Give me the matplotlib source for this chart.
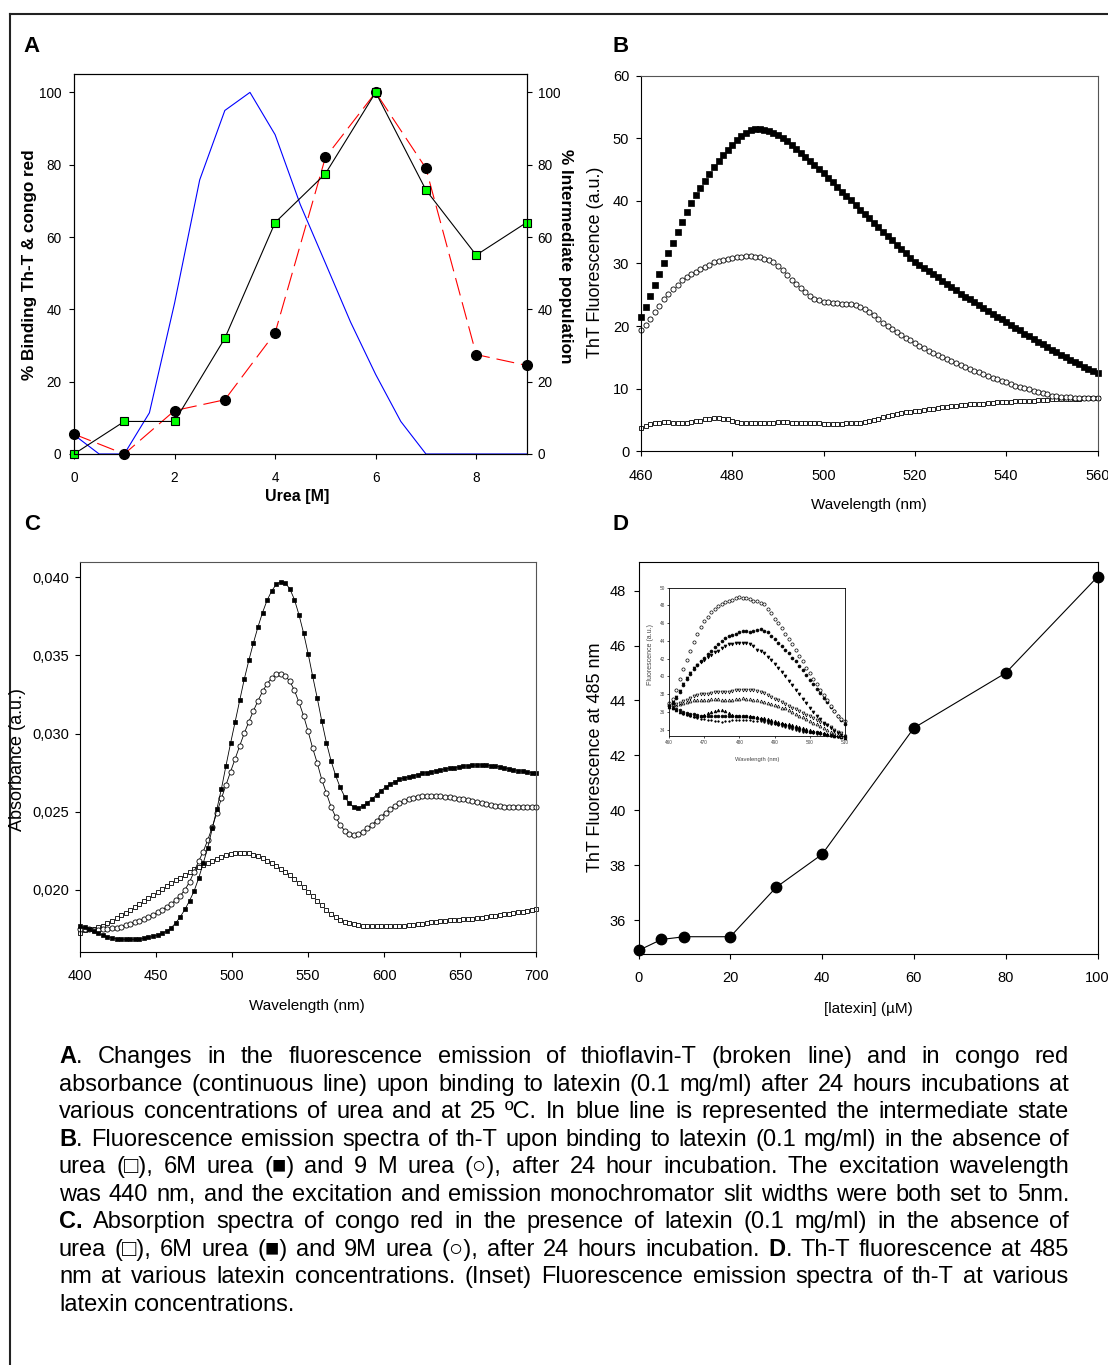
import numpy as np
import matplotlib
matplotlib.use("Agg")
import matplotlib.pyplot as plt
from matplotlib.lines import Line2D
from matplotlib.ticker import FuncFormatter

# ---------------------------------------------------------------- data
# Panel A: urea titration
urea = [0, 1, 2, 3, 4, 5, 6, 7, 8, 9]
congo_red = [0, 9, 9, 32, 64, 77.5, 100, 73, 55, 64]
thioflavin = [5.5, 0, 12, 15, 33.5, 82, 100, 79, 27.5, 24.5]
urea_fine = [0, 0.5, 1, 1.5, 2, 2.5, 3, 3.5, 4, 4.5, 5, 5.5, 6, 6.5, 7, 7.5, 8, 8.5, 9]
intermediate = [5.3, 0, 0, 11.4, 41.7, 75.8, 95, 100, 88.3, 69, 52.8, 36.5, 22, 9, 0, 0, 0, 0, 0]

# Panel B: ThT emission spectra, 460-560 nm every 1 nm
thtB_wl = np.arange(460, 561, 1)
thtB_6M = [21.4, 23.1, 24.8, 26.5, 28.4, 30.1, 31.7, 33.3, 35.0, 36.6,
           38.2, 39.6, 40.9, 42.1, 43.2, 44.3, 45.4, 46.4, 47.3, 48.2,
           49.0, 49.8, 50.4, 50.9, 51.3, 51.5, 51.5, 51.4, 51.2, 50.9,
           50.5, 50.0, 49.5, 48.9, 48.3, 47.7, 47.0, 46.4, 45.7, 45.1,
           44.4, 43.7, 43.0, 42.2, 41.5, 40.8, 40.1, 39.3, 38.6, 37.9,
           37.2, 36.5, 35.8, 35.1, 34.4, 33.7, 33.0, 32.3, 31.6, 30.9,
           30.3, 29.8, 29.3, 28.8, 28.3, 27.8, 27.2, 26.7, 26.2, 25.7,
           25.2, 24.7, 24.3, 23.8, 23.4, 22.9, 22.4, 22.0, 21.5, 21.1,
           20.6, 20.2, 19.7, 19.3, 18.8, 18.4, 17.9, 17.5, 17.1, 16.6,
           16.2, 15.8, 15.4, 15.0, 14.6, 14.2, 13.9, 13.5, 13.2, 12.8, 12.5]
thtB_9M = [19.3, 20.2, 21.2, 22.2, 23.2, 24.3, 25.2, 25.9, 26.6, 27.3,
           27.8, 28.3, 28.7, 29.1, 29.5, 29.8, 30.2, 30.4, 30.6, 30.7,
           30.9, 31.0, 31.1, 31.2, 31.2, 31.1, 31.0, 30.7, 30.5, 30.2,
           29.6, 28.9, 28.1, 27.4, 26.8, 26.1, 25.4, 24.8, 24.4, 24.1,
           23.9, 23.8, 23.7, 23.7, 23.6, 23.6, 23.5, 23.3, 23.0, 22.7,
           22.2, 21.7, 21.1, 20.5, 20.0, 19.5, 19.0, 18.5, 18.1, 17.7,
           17.3, 16.9, 16.5, 16.1, 15.7, 15.4, 15.0, 14.7, 14.4, 14.1,
           13.8, 13.5, 13.2, 12.9, 12.6, 12.3, 12.0, 11.7, 11.5, 11.2,
           11.0, 10.8, 10.5, 10.3, 10.1, 9.9, 9.7, 9.5, 9.3, 9.1,
           8.9, 8.8, 8.7, 8.6, 8.6, 8.5, 8.5, 8.5, 8.5, 8.5, 8.5]
thtB_0M = [3.8, 4.0, 4.3, 4.5, 4.6, 4.7, 4.7, 4.6, 4.6, 4.6,
           4.6, 4.7, 4.8, 4.9, 5.1, 5.2, 5.3, 5.3, 5.2, 5.1,
           4.8, 4.7, 4.6, 4.5, 4.5, 4.5, 4.5, 4.5, 4.6, 4.6,
           4.7, 4.7, 4.7, 4.6, 4.6, 4.5, 4.5, 4.5, 4.5, 4.5,
           4.4, 4.4, 4.4, 4.4, 4.4, 4.5, 4.5, 4.5, 4.6, 4.7,
           4.8, 5.0, 5.2, 5.4, 5.6, 5.8, 6.0, 6.1, 6.2, 6.3,
           6.4, 6.5, 6.6, 6.7, 6.8, 6.9, 7.0, 7.1, 7.2, 7.3,
           7.4, 7.4, 7.5, 7.5, 7.6, 7.6, 7.7, 7.7, 7.8, 7.8,
           7.9, 7.9, 8.0, 8.0, 8.0, 8.1, 8.1, 8.2, 8.2, 8.2,
           8.3, 8.3, 8.3, 8.4, 8.4, 8.4, 8.4, 8.5, 8.5, 8.5, 8.5]

# Panel C: congo red absorption spectra, 400-700 nm every 3 nm
absC_wl = np.arange(400, 701, 3)
absC_6M = [0.01767, 0.01759, 0.01748, 0.01735, 0.01720, 0.01707, 0.01699, 0.01692, 0.01686, 0.01684,
           0.01682, 0.01682, 0.01682, 0.01684, 0.01688, 0.01694, 0.01701, 0.01709, 0.01720, 0.01735,
           0.01756, 0.01788, 0.01827, 0.01874, 0.01929, 0.01991, 0.02073, 0.02169, 0.02269, 0.02393,
           0.02517, 0.02647, 0.02795, 0.02938, 0.03075, 0.03212, 0.03348, 0.03468, 0.03579, 0.03682,
           0.03774, 0.03853, 0.03912, 0.03955, 0.03972, 0.03964, 0.03925, 0.03857, 0.03759, 0.03643,
           0.03511, 0.03365, 0.03226, 0.03077, 0.02942, 0.02827, 0.02733, 0.02656, 0.02596, 0.02553,
           0.02528, 0.02523, 0.02536, 0.02558, 0.02579, 0.02609, 0.02635, 0.02656, 0.02675, 0.02692,
           0.02707, 0.02715, 0.02722, 0.02730, 0.02737, 0.02744, 0.02750, 0.02756, 0.02762, 0.02767,
           0.02772, 0.02777, 0.02782, 0.02786, 0.02790, 0.02793, 0.02796, 0.02798, 0.02799, 0.02798,
           0.02795, 0.02791, 0.02786, 0.02780, 0.02774, 0.02768, 0.02763, 0.02758, 0.02754, 0.02750,
           0.02746]
absC_9M = [0.01748, 0.01746, 0.01746, 0.01744, 0.01744, 0.01746, 0.01748, 0.01752, 0.01756, 0.01763,
           0.01771, 0.01780, 0.01791, 0.01801, 0.01814, 0.01827, 0.01840, 0.01855, 0.01872, 0.01889,
           0.01910, 0.01934, 0.01962, 0.02000, 0.02049, 0.02115, 0.02182, 0.02244, 0.02318, 0.02402,
           0.02494, 0.02585, 0.02671, 0.02756, 0.02838, 0.02921, 0.03002, 0.03075, 0.03145, 0.03209,
           0.03269, 0.03318, 0.03355, 0.03378, 0.03382, 0.03370, 0.03333, 0.03276, 0.03199, 0.03113,
           0.03013, 0.02905, 0.02810, 0.02703, 0.02618, 0.02532, 0.02468, 0.02415, 0.02378, 0.02357,
           0.02350, 0.02357, 0.02372, 0.02393, 0.02417, 0.02442, 0.02468, 0.02494, 0.02515, 0.02536,
           0.02553, 0.02568, 0.02579, 0.02588, 0.02594, 0.02598, 0.02600, 0.02600, 0.02600, 0.02598,
           0.02596, 0.02592, 0.02588, 0.02583, 0.02579, 0.02573, 0.02566, 0.02560, 0.02553, 0.02547,
           0.02541, 0.02536, 0.02534, 0.02532, 0.02532, 0.02532, 0.02532, 0.02532, 0.02532, 0.02532,
           0.02532]
absC_0M = [0.01720, 0.01741, 0.01746, 0.01750, 0.01759, 0.01769, 0.01784, 0.01801, 0.01818, 0.01835,
           0.01853, 0.01872, 0.01889, 0.01906, 0.01925, 0.01944, 0.01964, 0.01983, 0.02002, 0.02021,
           0.02041, 0.02060, 0.02077, 0.02094, 0.02113, 0.02130, 0.02147, 0.02160, 0.02173, 0.02186,
           0.02199, 0.02209, 0.02220, 0.02229, 0.02235, 0.02237, 0.02237, 0.02233, 0.02224, 0.02214,
           0.02201, 0.02186, 0.02169, 0.02152, 0.02132, 0.02113, 0.02092, 0.02068, 0.02045, 0.02015,
           0.01987, 0.01957, 0.01927, 0.01900, 0.01870, 0.01844, 0.01823, 0.01806, 0.01793, 0.01784,
           0.01778, 0.01774, 0.01769, 0.01767, 0.01767, 0.01765, 0.01765, 0.01765, 0.01765, 0.01767,
           0.01767, 0.01769, 0.01771, 0.01774, 0.01778, 0.01782, 0.01786, 0.01791, 0.01795, 0.01797,
           0.01801, 0.01803, 0.01806, 0.01808, 0.01810, 0.01812, 0.01814, 0.01816, 0.01821, 0.01825,
           0.01829, 0.01833, 0.01838, 0.01842, 0.01846, 0.01850, 0.01855, 0.01859, 0.01863, 0.01870,
           0.01876]

# Panel D: ThT fluorescence at 485 nm vs latexin
latexin = [0, 5, 10, 20, 30, 40, 60, 80, 100]
tht_485 = [34.9, 35.3, 35.4, 35.4, 37.2, 38.4, 43.0, 45.0, 48.5]

# Panel D inset: emission spectra at several latexin concentrations, 460-510 nm
inset_wl = np.arange(460, 511, 1)
inset_100 = [37.0, 37.5, 38.5, 39.7, 40.8, 41.9, 42.9, 43.9, 44.8, 45.6,
             46.2, 46.7, 47.2, 47.6, 47.9, 48.2, 48.4, 48.5, 48.6, 48.8,
             48.9, 48.8, 48.8, 48.7, 48.5, 48.5, 48.3, 48.1, 47.6, 47.1,
             46.5, 46.0, 45.4, 44.8, 44.2, 43.6, 43.0, 42.3, 41.7, 41.0,
             40.4, 39.7, 39.1, 38.5, 37.9, 37.3, 36.7, 36.1, 35.6, 35.2, 35.0]
inset_80 = [36.8, 37.0, 37.6, 38.3, 39.0, 39.7, 40.3, 40.8, 41.3, 41.7,
            42.1, 42.5, 42.9, 43.3, 43.7, 44.0, 44.3, 44.6, 44.7, 44.8,
            45.0, 45.1, 45.1, 45.0, 45.1, 45.2, 45.3, 45.1, 45.0, 44.6,
            44.2, 43.8, 43.4, 43.0, 42.6, 42.1, 41.7, 41.2, 40.7, 40.2,
            39.6, 39.1, 38.6, 38.1, 37.6, 37.1, 36.6, 36.1, 35.6, 35.1, 34.6]
inset_60 = [36.8, 37.1, 37.7, 38.4, 39.1, 39.8, 40.4, 40.9, 41.3, 41.6,
            41.9, 42.2, 42.4, 42.7, 42.9, 43.2, 43.4, 43.6, 43.7, 43.8,
            43.8, 43.8, 43.8, 43.7, 43.4, 43.0, 42.9, 42.6, 42.2, 41.8,
            41.4, 41.0, 40.5, 40.0, 39.5, 39.0, 38.5, 38.0, 37.5, 37.0,
            36.5, 36.0, 35.6, 35.2, 34.8, 34.5, 34.2, 33.9, 33.6, 33.4, 33.2]
inset_40 = [36.8, 36.8, 36.9, 37.0, 37.2, 37.4, 37.6, 37.8, 37.9, 38.0,
            38.0, 38.0, 38.1, 38.2, 38.2, 38.2, 38.3, 38.3, 38.4, 38.5,
            38.5, 38.5, 38.5, 38.5, 38.5, 38.4, 38.3, 38.1, 37.9, 37.7,
            37.5, 37.3, 37.1, 36.9, 36.7, 36.5, 36.3, 36.1, 35.9, 35.7,
            35.5, 35.3, 35.1, 34.9, 34.7, 34.5, 34.3, 34.0, 33.8, 33.6, 33.3]
inset_30 = [36.8, 36.8, 36.8, 36.9, 37.0, 37.1, 37.2, 37.3, 37.3, 37.3,
            37.3, 37.4, 37.5, 37.5, 37.5, 37.4, 37.4, 37.4, 37.4, 37.5,
            37.5, 37.6, 37.5, 37.5, 37.4, 37.3, 37.2, 37.1, 37.0, 36.9,
            36.8, 36.7, 36.5, 36.4, 36.2, 36.0, 35.8, 35.6, 35.4, 35.2,
            35.0, 34.8, 34.6, 34.4, 34.2, 34.0, 33.8, 33.6, 33.4, 33.3, 33.2]
inset_20 = [36.6, 36.4, 36.2, 36.0, 35.9, 35.8, 35.7, 35.6, 35.6, 35.6,
            35.7, 35.9, 36.0, 36.1, 36.2, 36.2, 36.1, 35.9, 35.7, 35.6,
            35.6, 35.6, 35.5, 35.5, 35.4, 35.4, 35.3, 35.3, 35.2, 35.1,
            35.0, 34.9, 34.8, 34.7, 34.6, 34.5, 34.4, 34.3, 34.2, 34.1,
            34.0, 33.9, 33.8, 33.7, 33.6, 33.5, 33.4, 33.3, 33.3, 33.2, 33.1]
inset_10 = [36.7, 36.5, 36.3, 36.2, 36.0, 35.9, 35.8, 35.8, 35.7, 35.6,
            35.6, 35.5, 35.5, 35.5, 35.5, 35.6, 35.6, 35.6, 35.6, 35.6,
            35.6, 35.5, 35.5, 35.4, 35.4, 35.3, 35.2, 35.1, 35.0, 34.9,
            34.8, 34.7, 34.6, 34.5, 34.4, 34.3, 34.2, 34.1, 34.0, 33.9,
            33.8, 33.7, 33.7, 33.6, 33.5, 33.4, 33.4, 33.3, 33.3, 33.2, 33.2]
inset_0 = [36.7, 36.4, 36.2, 36.0, 35.8, 35.7, 35.5, 35.4, 35.3, 35.2,
           35.2, 35.1, 35.1, 35.0, 35.0, 34.9, 35.0, 35.0, 35.1, 35.1,
           35.1, 35.1, 35.1, 35.1, 35.0, 35.0, 35.0, 34.9, 34.8, 34.7,
           34.6, 34.5, 34.4, 34.3, 34.2, 34.1, 34.0, 33.9, 33.8, 33.7,
           33.7, 33.6, 33.5, 33.5, 33.4, 33.4, 33.3, 33.3, 33.2, 33.2, 33.1]

caption_lines = [
    "*A*. Changes in the fluorescence emission of thioflavin-T (broken line) and in congo red",
    "absorbance (continuous line) upon binding to latexin (0.1 mg/ml) after 24 hours incubations at",
    "various concentrations of urea and at 25 \u00baC. In blue line is represented the intermediate state",
    "*B*. Fluorescence emission spectra of th-T upon binding to latexin (0.1 mg/ml) in the absence of",
    "urea (\u25a1), 6M urea (\u25a0) and 9 M urea (\u25cb), after 24 hour incubation. The excitation wavelength",
    "was 440 nm, and the excitation and emission monochromator slit widths were both set to 5nm.",
    "*C.* Absorption spectra of congo red in the presence of latexin (0.1 mg/ml) in the absence of",
    "urea (\u25a1), 6M urea (\u25a0) and 9M urea (\u25cb), after 24 hours incubation. *D*. Th-T fluorescence at 485",
    "nm at various latexin concentrations. (Inset) Fluorescence emission spectra of th-T at various",
    "latexin concentrations.",
]

# ---------------------------------------------------------------- setup
W, H, DPI = 1108, 1365, 100
plt.rcParams['lines.scale_dashes'] = False
SANS = ['Liberation Sans', 'DejaVu Sans']

fig = plt.figure(figsize=(W / DPI, H / DPI), dpi=DPI)
fig.patch.set_facecolor('white')


def rect(l, t, r, b):
    return [l / W, 1 - b / H, (r - l) / W, (b - t) / H]


def fx(x):
    return x / W


def fy(y):
    return 1 - y / H


def style(ax, size, pad_y, pad_x, frame='black'):
    for name, s in ax.spines.items():
        s.set_linewidth(0.8)
        s.set_color('black' if name in ('left', 'bottom') else frame)
    ax.tick_params(direction='out', length=3.5, width=0.8, top=False, right=False,
                   labelsize=size, labelfontfamily=SANS)
    ax.tick_params(axis='y', pad=pad_y)
    ax.tick_params(axis='x', pad=pad_x)


# frame around the whole figure
fig.add_artist(Line2D([fx(10), fx(10)], [fy(14), 0], transform=fig.transFigure,
                      color='#222222', lw=1.5))
fig.add_artist(Line2D([fx(10), 1], [fy(14), fy(14)], transform=fig.transFigure,
                      color='#222222', lw=1.5))

# panel letters
for letter, (x, y) in zip("ABCD", [(32, 46), (621, 46), (32, 524), (621, 524)]):
    fig.text(fx(x), fy(y), letter, fontsize=16, fontweight='bold', family=SANS,
             ha='center', va='center')

# ---------------------------------------------------------------- panel A
axA = fig.add_axes(rect(74, 74.3, 526.5, 454))
axA.plot(urea_fine, intermediate, color='#0000ff', lw=0.8, zorder=1)
axA.plot(urea, thioflavin, color='red', lw=0.8, dashes=(13, 5), zorder=2)
axA.plot(urea, thioflavin, 'o', ms=7, mfc='black', mec='black', zorder=3, clip_on=False)
axA.plot(urea, congo_red, color='black', lw=0.8, zorder=4)
axA.plot(urea, congo_red, 's', ms=5.5, mfc='#00ff00', mec='black', mew=0.8, zorder=5,
         clip_on=False)
axA.set_xlim(0, 9)
axA.set_ylim(0, 105)
axA.set_xticks([0, 2, 4, 6, 8])
axA.set_yticks(range(0, 101, 20))
style(axA, 9.8, 5.5, 9)
axA2 = axA.twinx()
axA2.set_ylim(0, 105)
axA2.set_yticks(range(0, 101, 20))
axA2.tick_params(direction='out', length=3.5, width=0.8, labelsize=9.8,
                 labelfontfamily=SANS, pad=4.5)
for s in axA2.spines.values():
    s.set_linewidth(0.8)
fig.text(fx(30), fy(265), '% Binding Th-T & congo red', rotation=90, fontsize=12.3,
         fontweight='bold', family=SANS, ha='center', va='center')
fig.text(fx(565), fy(256), '% Intermediate population', rotation=270, fontsize=12.3,
         fontweight='bold', family=SANS, ha='center', va='center')
fig.text(fx(297), fy(497), 'Urea [M]', fontsize=11.5, fontweight='bold', family=SANS,
         ha='center', va='center')

# ---------------------------------------------------------------- panel B
axB = fig.add_axes(rect(641, 75.7, 1097.5, 451.3))
axB.plot(thtB_wl, thtB_0M, 's', ms=3.4, mfc='white', mec='black', mew=0.6, clip_on=False)
axB.plot(thtB_wl, thtB_9M, 'o', ms=3.7, mfc='white', mec='black', mew=0.6, clip_on=False)
axB.plot(thtB_wl, thtB_6M, 's', ms=3.7, mfc='black', mec='black', mew=0.5, clip_on=False)
axB.set_xlim(460, 560)
axB.set_ylim(0, 60)
axB.set_xticks(range(460, 561, 20))
axB.set_yticks(range(0, 61, 10))
style(axB, 10.5, 5, 9, frame='#555555')
fig.text(fx(596), fy(262), 'ThT Fluorescence (a.u.)', rotation=90, fontsize=13,
         family=SANS, ha='center', va='center')
fig.text(fx(869), fy(505), 'Wavelength (nm)', fontsize=11, family=SANS,
         ha='center', va='center')

# ---------------------------------------------------------------- panel C
axC = fig.add_axes(rect(80, 561.7, 536.3, 951.7))
axC.plot(absC_wl, absC_0M, 's', ms=3.4, mfc='white', mec='black', mew=0.6, clip_on=False)
axC.plot(absC_wl, absC_9M, '-o', color='black', lw=0.6, ms=3.7, mfc='white', mec='black',
         mew=0.6, clip_on=False)
axC.plot(absC_wl, absC_6M, '-s', color='black', lw=0.6, ms=3.4, mfc='black', mec='black',
         mew=0.5, clip_on=False)
axC.set_xlim(400, 700)
axC.set_ylim(0.01603, 0.04100)
axC.set_xticks(range(400, 701, 50))
axC.set_yticks([0.020, 0.025, 0.030, 0.035, 0.040])
axC.yaxis.set_major_formatter(FuncFormatter(lambda v, p: f"{v:.3f}".replace('.', ',')))
style(axC, 10.5, 4.5, 9, frame='#555555')
fig.text(fx(18), fy(760), 'Absorbance (a.u.)', rotation=90, fontsize=13,
         family=SANS, ha='center', va='center')
fig.text(fx(307), fy(1006), 'Wavelength (nm)', fontsize=11, family=SANS,
         ha='center', va='center')

# ---------------------------------------------------------------- panel D
axD = fig.add_axes(rect(638.5, 562.3, 1097.5, 954.3))
axD.plot(latexin, tht_485, '-o', color='black', lw=0.8, ms=7.5, clip_on=False)
axD.set_xlim(0, 100)
axD.set_ylim(34.76, 49.03)
axD.set_xticks(range(0, 101, 20))
axD.set_yticks(range(36, 49, 2))
style(axD, 10.5, 5.5, 8.5)
fig.text(fx(596), fy(757), 'ThT Fluorescence at 485 nm', rotation=90, fontsize=13,
         family=SANS, ha='center', va='center')
fig.text(fx(868), fy(1009), '[latexin] (\u00b5M)', fontsize=11, family=SANS,
         ha='center', va='center')

# inset spectra
axI = fig.add_axes(rect(669, 587.5, 845, 736))
inset_series = [
    (inset_0, '.', 'black', 'black', 2.2),
    (inset_10, 'o', 'black', 'black', 2.0),
    (inset_20, '^', 'black', 'black', 2.0),
    (inset_30, '^', 'white', 'black', 2.1),
    (inset_40, 'v', 'white', 'black', 2.1),
    (inset_60, 'v', 'black', 'black', 2.1),
    (inset_80, 'o', 'black', 'black', 2.1),
    (inset_100, 'o', 'white', 'black', 2.3),
]
for vals, m, fc, ec, ms in inset_series:
    axI.plot(inset_wl, vals, m, ms=ms, mfc=fc, mec=ec, mew=0.5, ls='none', clip_on=False)
axI.set_xlim(460, 510)
axI.set_ylim(33.3, 50)
axI.set_xticks(range(460, 511, 10))
axI.set_yticks(range(34, 51, 2))
for s in axI.spines.values():
    s.set_linewidth(0.6)
axI.tick_params(direction='out', length=1.5, width=0.5, labelsize=3.4,
                labelfontfamily=SANS, labelcolor='#444444', pad=1.5)
fig.text(fx(651), fy(654), 'Fluorescence (a.u.)', rotation=90, fontsize=5,
         family=SANS, color='#444444', ha='center', va='center')
fig.text(fx(757), fy(760), 'Wavelength (nm)', fontsize=4.2, family=SANS,
         color='#444444', ha='center', va='center')


# ---------------------------------------------------------------- caption
def justified(lines, left, right, base0, step, size):
    renderer = fig.canvas.get_renderer()
    space = 0.278 * size * DPI / 72
    for i, line in enumerate(lines):
        y = base0 + i * step
        bold = False
        words = []
        for w in line.split(' '):
            segs = []
            for k, part in enumerate(w.split('*')):
                if k > 0:
                    bold = not bold
                if part:
                    t = fig.text(0, 0, part, fontsize=size, family=SANS,
                                 fontweight='bold' if bold else 'normal',
                                 ha='left', va='baseline')
                    wd = t.get_window_extent(renderer).width
                    segs.append((t, wd))
            words.append(segs)
        widths = [sum(wd for _, wd in segs) for segs in words]
        last = i == len(lines) - 1
        gap = space if last or len(words) < 2 else \
            (right - left - sum(widths)) / (len(words) - 1)
        x = left
        for segs, wtot in zip(words, widths):
            xx = x
            for t, wd in segs:
                t.set_position((fx(xx), fy(y)))
                xx += wd
            x += wtot + gap


justified(caption_lines, 59, 1069, 1063, 27.55, 17)

fig.savefig('out.png', dpi=DPI, facecolor='white')
